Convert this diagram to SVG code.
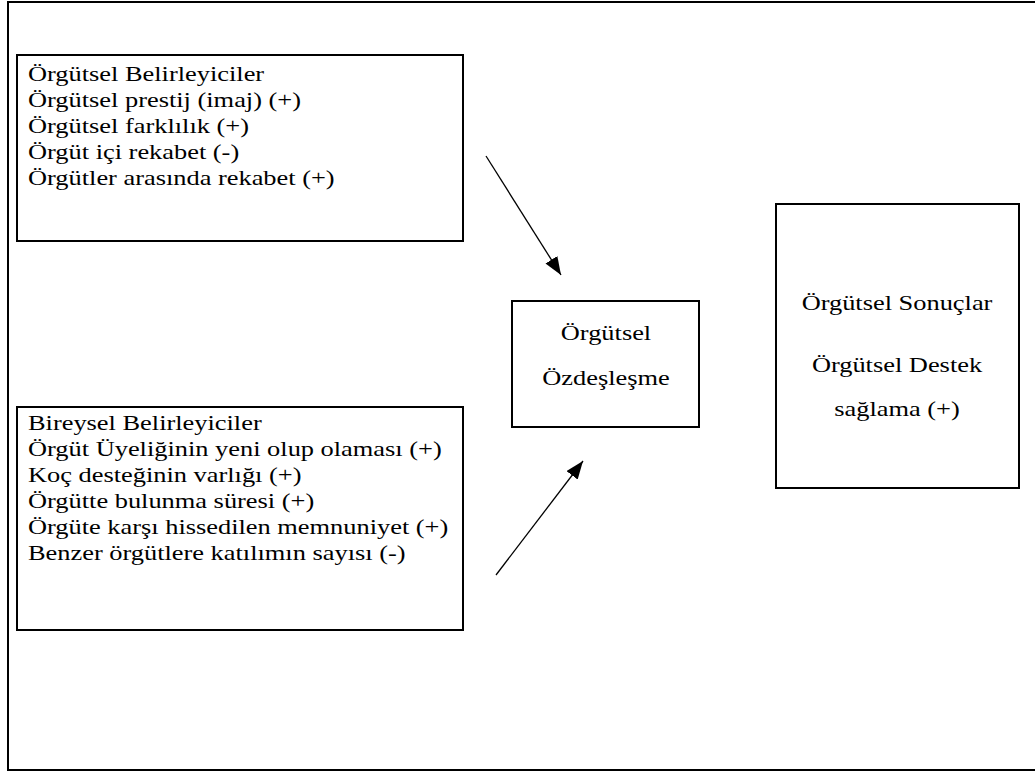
<svg xmlns="http://www.w3.org/2000/svg" width="1035" height="772" viewBox="0 0 1035 772">
  <style>
    .frame { fill: none; stroke: #000; stroke-width: 2; }
    .box { fill: #fff; stroke: #000; stroke-width: 2; }
    .lbl { font-family: "Liberation Serif", "Times New Roman", serif; font-size: 22px; fill: #000; }
    .mid { text-anchor: middle; }
    .conn { stroke: #000; stroke-width: 1.3; fill: none; }
  </style>
  <defs>
    <marker id="arrow" viewBox="0 0 18 14" refX="18" refY="7" markerWidth="18" markerHeight="14" markerUnits="userSpaceOnUse" orient="auto">
      <path d="M0,0 L18,7 L0,14 Z" fill="#000"/>
    </marker>
  </defs>
  <rect width="1035" height="772" fill="#fff"/>

  <!-- outer page frame (right side runs off the sheet) -->
  <rect class="frame" x="8" y="2" width="1040" height="768"/>

  <!-- organisational determinants -->
  <g id="orgutsel-belirleyiciler">
    <rect class="box" x="17" y="55" width="446" height="186"/>
    <text class="lbl" transform="translate(28,81) scale(1.2,1)">Örgütsel Belirleyiciler</text>
    <text class="lbl" transform="translate(28,107) scale(1.2,1)">Örgütsel prestij (imaj) (+)</text>
    <text class="lbl" transform="translate(28,133) scale(1.2,1)">Örgütsel farklılık (+)</text>
    <text class="lbl" transform="translate(28,159) scale(1.2,1)">Örgüt içi rekabet (-)</text>
    <text class="lbl" transform="translate(28,185) scale(1.2,1)">Örgütler arasında rekabet (+)</text>
  </g>

  <!-- individual determinants -->
  <g id="bireysel-belirleyiciler">
    <rect class="box" x="17" y="407" width="446" height="223"/>
    <text class="lbl" transform="translate(28,430) scale(1.2,1)">Bireysel Belirleyiciler</text>
    <text class="lbl" transform="translate(28,456) scale(1.2,1)">Örgüt Üyeliğinin yeni olup olaması (+)</text>
    <text class="lbl" transform="translate(28,482) scale(1.2,1)">Koç desteğinin varlığı (+)</text>
    <text class="lbl" transform="translate(28,508) scale(1.2,1)">Örgütte bulunma süresi (+)</text>
    <text class="lbl" transform="translate(28,534) scale(1.2,1)">Örgüte karşı hissedilen memnuniyet (+)</text>
    <text class="lbl" transform="translate(28,560) scale(1.2,1)">Benzer örgütlere katılımın sayısı (-)</text>
  </g>

  <!-- organisational identification -->
  <g id="orgutsel-ozdeslesme">
    <rect class="box" x="512" y="301" width="187" height="126"/>
    <text class="lbl mid" transform="translate(606,340) scale(1.2,1)">Örgütsel</text>
    <text class="lbl mid" transform="translate(606,385) scale(1.2,1)">Özdeşleşme</text>
  </g>

  <!-- organisational outcomes -->
  <g id="orgutsel-sonuclar">
    <rect class="box" x="776" y="204" width="243" height="284"/>
    <text class="lbl mid" transform="translate(897,310) scale(1.2,1)">Örgütsel Sonuçlar</text>
    <text class="lbl mid" transform="translate(897,372) scale(1.2,1)">Örgütsel Destek</text>
    <text class="lbl mid" transform="translate(897,416) scale(1.2,1)">sağlama (+)</text>
  </g>

  <!-- connectors -->
  <g id="connectors">
    <line class="conn" x1="486" y1="156" x2="561" y2="275" marker-end="url(#arrow)"/>
    <line class="conn" x1="496" y1="575" x2="583" y2="461" marker-end="url(#arrow)"/>
  </g>
</svg>
